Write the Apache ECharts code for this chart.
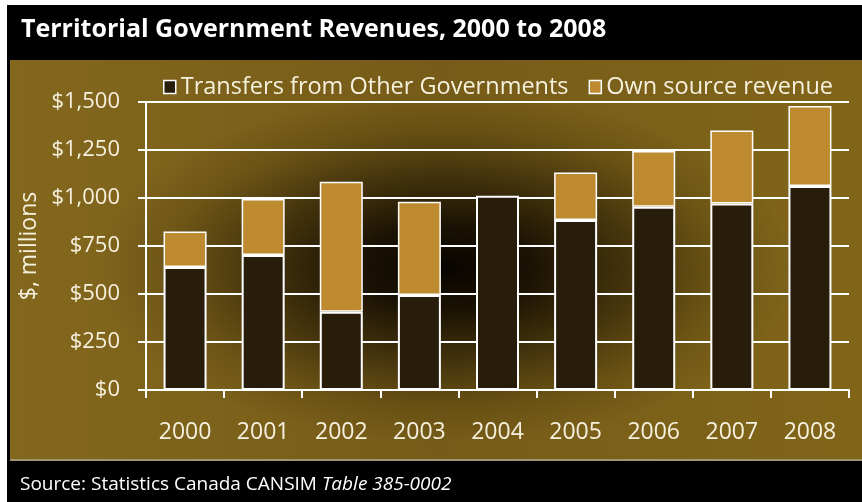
<!DOCTYPE html>
<html>
<head>
<meta charset="utf-8">
<script src="https://cdn.jsdelivr.net/npm/echarts@6/dist/echarts.min.js"></script>
<style>
  html, body { margin: 0; padding: 0; background: #ffffff; }
  #chart { width: 862px; height: 502px; }
</style>
</head>
<body>
<div id="chart"></div>
<script>
// Territorial government revenues, $ millions
const years = ['2000', '2001', '2002', '2003', '2004', '2005', '2006', '2007', '2008'];
const transfers = [640, 703, 408, 495, 1012, 885, 955, 972, 1062];
const ownSource = [185, 292, 677, 486, null, 248, 290, 379, 417];
const seriesNames = ['Transfers from Other Governments', 'Own source revenue'];
const yTicks = [0, 250, 500, 750, 1000, 1250, 1500];

const FONT = '"Open Sans", "DejaVu Sans", sans-serif';
const TEXT = '#f6f0de';
const DARK_BAR = '#281c0b';
const OWN_BAR = '#bd8a30';

const chart = echarts.init(document.getElementById('chart'), null, { renderer: 'canvas' });

function money(v) {
  return '$' + v.toString().replace(/\B(?=(\d{3})+(?!\d))/g, ',');
}

chart.setOption({
  backgroundColor: '#ffffff',
  animation: false,
  graphic: [
    // outer black frame and title bar
    { type: 'rect', z: -10, silent: true, shape: { x: 7, y: 5, width: 855, height: 497 }, style: { fill: '#000000' } },
    // gold panel
    { type: 'rect', z: -9, silent: true, shape: { x: 10, y: 60, width: 852, height: 399 },
      style: { fill: { type: 'linear', x: 0, y: 0, x2: 1, y2: 0, colorStops: [
        { offset: 0, color: '#83671d' }, { offset: 0.5, color: '#765c18' }, { offset: 1, color: '#806519' } ] } } },
    // dark glow behind the middle of the plot
    { type: 'circle', z: -8, silent: true, x: 445, y: 268, scaleX: 2.0, scaleY: 1.0,
      shape: { cx: 0, cy: 0, r: 175 },
      style: { fill: { type: 'radial', x: 0.5, y: 0.5, r: 0.5, colorStops: [
        { offset: 0, color: 'rgba(8,4,0,1)' },
        { offset: 0.25, color: 'rgba(14,8,0,0.88)' },
        { offset: 0.55, color: 'rgba(25,16,2,0.52)' },
        { offset: 0.8, color: 'rgba(40,28,4,0.18)' },
        { offset: 1, color: 'rgba(40,28,4,0)' } ] } } },
    // thin separator above the footer
    { type: 'rect', z: -7, silent: true, shape: { x: 10, y: 459, width: 852, height: 2 }, style: { fill: '#a39371' } },
    // title
    { type: 'text', silent: true, left: 21, top: 17,
      style: { text: 'Territorial Government Revenues, 2000 to 2008', fill: '#ffffff',
        font: 'bold 25px ' + FONT } },
    // source line
    { type: 'text', silent: true, left: 20, top: 475,
      style: { text: '{n|Source: Statistics Canada CANSIM }{i|Table 385-0002}',
        rich: {
          n: { fill: '#ffffff', fontSize: 19, fontFamily: FONT },
          i: { fill: '#ffffff', fontSize: 19, fontFamily: FONT, fontStyle: 'italic' }
        } } }
  ],
  legend: {
    left: 158, top: 70,
    itemWidth: 12, itemHeight: 13, itemGap: 20,
    icon: 'rect',
    textStyle: { color: TEXT, fontSize: 23.5, fontFamily: FONT, padding: [0, 0, 0, 0] },
    data: [
      { name: seriesNames[0], itemStyle: { color: DARK_BAR, borderColor: '#ffffff', borderWidth: 1.5 } },
      { name: seriesNames[1], itemStyle: { color: OWN_BAR, borderColor: '#ffffff', borderWidth: 1.5 } }
    ]
  },
  grid: { left: 146, right: 13, top: 102, bottom: 112, containLabel: false },
  xAxis: {
    type: 'category',
    data: years,
    boundaryGap: true,
    axisLine: { show: true, lineStyle: { color: '#ffffff', width: 2 } },
    axisTick: { show: true, interval: 0, length: 8, lineStyle: { color: '#ffffff', width: 2 } },
    axisLabel: { color: TEXT, fontSize: 23, fontFamily: FONT, margin: 31, interval: 0 }
  },
  yAxis: {
    type: 'value',
    min: yTicks[0], max: yTicks[yTicks.length - 1], interval: 250,
    name: '$, millions',
    nameLocation: 'middle', nameRotate: 90, nameGap: 101,
    nameTextStyle: { color: TEXT, fontSize: 23, fontFamily: FONT },
    axisLine: { show: true, lineStyle: { color: '#ffffff', width: 2 } },
    axisTick: { show: true, length: 8, lineStyle: { color: '#ffffff', width: 2 } },
    splitLine: { show: true, lineStyle: { color: '#ffffff', width: 2 } },
    axisLabel: { color: TEXT, fontSize: 22, fontFamily: FONT, margin: 26, formatter: money }
  },
  series: [
    { name: seriesNames[0], type: 'bar', stack: 'total', barWidth: 43, data: transfers,
      itemStyle: { color: DARK_BAR, borderColor: '#ffffff', borderWidth: 2 } },
    { name: seriesNames[1], type: 'bar', stack: 'total', barWidth: 43, data: ownSource,
      itemStyle: { color: OWN_BAR, borderColor: '#ffffff', borderWidth: 1.5 } }
  ]
});
</script>
</body>
</html>
